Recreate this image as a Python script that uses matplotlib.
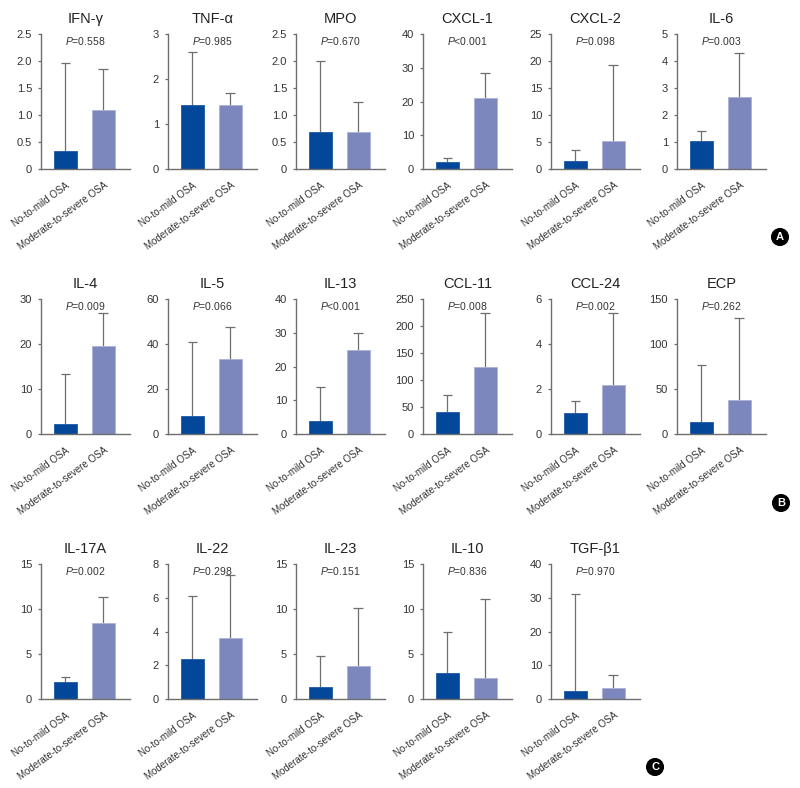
import matplotlib
matplotlib.use('Agg')
import matplotlib.pyplot as plt
import matplotlib.transforms as mtransforms
from matplotlib.ticker import FuncFormatter

plt.rcParams['font.family'] = ['Liberation Sans', 'DejaVu Sans']
plt.rcParams['mathtext.fontset'] = 'custom'
plt.rcParams['mathtext.it'] = 'Liberation Sans:italic'
plt.rcParams['mathtext.rm'] = 'Liberation Sans'

groups = ['No-to-mild OSA', 'Moderate-to-severe OSA']

# panel data: name, p text, means, upper error ends, y max, y step
names = ['IFN-γ', 'TNF-α', 'MPO', 'CXCL-1', 'CXCL-2', 'IL-6',
         'IL-4', 'IL-5', 'IL-13', 'CCL-11', 'CCL-24', 'ECP',
         'IL-17A', 'IL-22', 'IL-23', 'IL-10', 'TGF-β1']
pvals = ['=0.558', '=0.985', '=0.670', '<0.001', '=0.098', '=0.003',
         '=0.009', '=0.066', '<0.001', '=0.008', '=0.002', '=0.262',
         '=0.002', '=0.298', '=0.151', '=0.836', '=0.970']
mild = [0.33, 1.43, 0.68, 2.2, 1.4, 1.02,
        2.3, 7.9, 3.9, 40, 0.95, 13,
        1.85, 2.35, 1.3, 2.9, 2.5]
severe = [1.09, 1.43, 0.68, 20.9, 5.1, 2.66,
          19.6, 33.4, 24.9, 125, 2.18, 38,
          8.4, 3.6, 3.67, 2.35, 3.3]
mild_top = [1.97, 2.6, 2.0, 3.4, 3.6, 1.4,
            13.3, 40.8, 13.9, 72, 1.45, 77,
            2.4, 6.1, 4.78, 7.5, 31]
severe_top = [1.86, 1.7, 1.24, 28.5, 19.3, 4.28,
              26.9, 47.4, 29.9, 225, 5.4, 129,
              11.3, 7.35, 10.1, 11.1, 7.2]
ymax = [2.5, 3, 2.5, 40, 25, 5,
        30, 60, 40, 250, 6, 150,
        15, 8, 15, 15, 40]
ystep = [0.5, 1, 0.5, 10, 5, 1,
         10, 20, 10, 50, 2, 50,
         5, 2, 5, 5, 10]

dark = '#02479a'
light = '#7c88bd'
grey = '#6e6e6e'

fig = plt.figure(figsize=(8, 7.88), dpi=100)
W, H = 800, 788
col_x = [41, 168, 296, 423, 551, 677]
row_top = [34, 299, 564]
aw, ah = 89, 135

for i, name in enumerate(names):
    r, c = divmod(i, 6)
    ax = fig.add_axes([col_x[c] / W, 1 - (row_top[r] + ah) / H, aw / W, ah / H])
    vals = [mild[i], severe[i]]
    tops = [mild_top[i], severe_top[i]]
    ax.vlines([0, 1], vals, tops, color=grey, lw=0.9, zorder=1)
    ax.hlines(tops, [-0.13, 0.87], [0.13, 1.13], color=grey, lw=0.9, zorder=1)
    ax.bar([0, 1], vals, width=0.6, color=[dark, light],
           edgecolor=['#1d5aa5', '#aab2d8'], linewidth=0.6, zorder=2)
    ax.set_xlim(-0.645, 1.7)
    ax.set_ylim(0, ymax[i])
    n = int(round(ymax[i] / ystep[i]))
    ticks = [k * ystep[i] for k in range(n + 1)]
    ax.set_yticks(ticks)
    dec = ystep[i] < 1
    ax.yaxis.set_major_formatter(FuncFormatter(
        lambda v, p, d=dec: '0' if v == 0 else (f'{v:.1f}' if d else f'{v:g}')))
    ax.set_xticks([0, 1])
    ax.set_xticklabels(groups, rotation=36, ha='right', rotation_mode='anchor',
                       fontsize=7, color='#333333')
    shift = mtransforms.ScaledTranslation(0.065, 0, fig.dpi_scale_trans)
    for lbl in ax.get_xticklabels():
        lbl.set_transform(lbl.get_transform() + shift)
    ax.tick_params(axis='x', length=0, pad=8)
    ax.tick_params(axis='y', length=2.5, width=0.9, color=grey, pad=4,
                   labelsize=8, labelcolor='#333333')
    for s in ['top', 'right']:
        ax.spines[s].set_visible(False)
    for s in ['left', 'bottom']:
        ax.spines[s].set_color(grey)
        ax.spines[s].set_linewidth(1.0)
    ax.set_title(name, fontsize=10.5, color='#222222', pad=8)
    ax.text(0.5, 0.95, '$P$' + pvals[i], transform=ax.transAxes,
            ha='center', va='center', fontsize=7.5, color='#333333')

for lab, (x, y) in zip(['A', 'B', 'C'], [(780, 237), (781, 503), (655, 767)]):
    fig.text(x / W, 1 - y / H, lab, ha='center', va='center', color='white',
             fontsize=8, fontweight='bold',
             bbox=dict(boxstyle='circle,pad=0.3', fc='black', ec='black'))

fig.savefig('out.png', dpi=100)
